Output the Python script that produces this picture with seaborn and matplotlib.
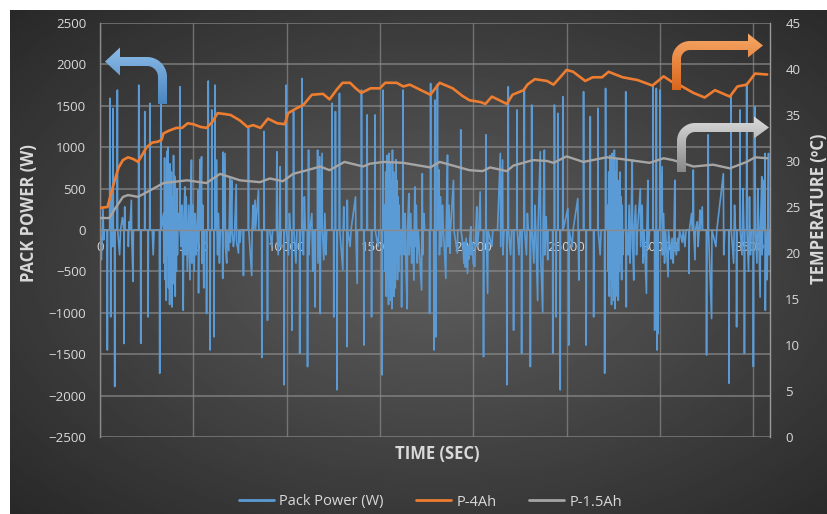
import numpy as np
import matplotlib
matplotlib.use("Agg")
import matplotlib.pyplot as plt
import seaborn as sns
from matplotlib.path import Path
from matplotlib.patches import PathPatch
from matplotlib.lines import Line2D

# pack power (W), time in seconds
pack_time = [
    0, 40, 72, 110, 160, 200, 240, 380, 394, 410, 515, 530, 545, 560, 573, 590, 650, 660, 675, 700, 715, 775, 788, 800, 915, 930, 945, 1050, 1100, 1200, 1280, 1290, 1300, 1325, 1340, 1500, 1520, 1560, 1600, 1680, 1700, 1770, 1790, 2060, 2077, 2095, 2170, 2184, 2200, 2390, 2400, 2415, 2570, 2580, 2595, 2660, 2670, 2685, 2800, 2850, 2900, 3180, 3200, 3215, 3250, 3260, 3275,
    3400, 3430, 3460, 3490, 3520, 3550, 3580, 3610, 3640, 3670, 3700, 3730, 3760, 3790, 3820, 3850, 3880, 3910, 3940, 3970, 4000, 4030, 4060, 4090, 4120, 4150, 4180, 4220,
    4270, 4280, 4295, 4350, 4400, 4460, 4480, 4550, 4570, 4620, 4680, 4750, 4820, 4850, 4900, 4930, 4980, 5050, 5100, 5150, 5200, 5260, 5280, 5300, 5360, 5380, 5440, 5460, 5500, 5560, 5600, 5700, 5710, 5725, 5790, 5800, 5815, 5880, 5900, 5915, 5980, 5990, 6005, 6100, 6110, 6125, 6150, 6160, 6175,
    6254, 6270, 6300, 6350, 6400, 6450, 6560, 6576, 6600, 6620, 6700, 6720, 6790, 6810, 6900, 6970, 6990, 7060, 7080, 7150, 7200, 7300, 7320, 7420, 7450, 7500, 7550, 7670, 7686, 7700, 7940, 7955, 7970, 8130, 8150, 8200, 8220, 8310, 8330, 8490, 8510, 8660, 8670, 8685, 8780, 8790, 8805, 8960, 8975, 8990,
    9100, 9200, 9250, 9450, 9476, 9490, 9550, 9600, 9655, 9670, 9700, 9860, 9870, 9880, 9970, 9977, 9990, 10100, 10150, 10200, 10270, 10280, 10295, 10360, 10370, 10385, 10500, 10550, 10690, 10700, 10715, 10810, 10820, 10835, 10900, 10950, 11000, 11110, 11120, 11135, 11160, 11175, 11190, 11250, 11350, 11400, 11450, 11520, 11530, 11545, 11650, 11660, 11680, 11780, 11800, 11820, 11900, 11915, 11990, 12050, 12100, 12150,
    12420, 12436, 12450, 12515, 12525, 12540, 12600, 12615, 12630, 12690, 12700, 12715, 12820, 12830, 12845, 13010, 13030, 13060, 13080, 13230, 13240, 13250, 13265, 13400, 13450, 13690, 13710, 13780, 13800, 14000, 14010, 14025, 14130, 14137, 14150, 14300, 14315, 14330, 14540, 14550, 14565, 14720, 14730, 14745, 14900, 14950, 15110, 15120, 15135, 15150, 15157, 15170,
    15250, 15280, 15310, 15340, 15370, 15400, 15430, 15460, 15490, 15520, 15550, 15580, 15610, 15640, 15670, 15700, 15730, 15760, 15790, 15820, 15850, 15880, 15910, 15940, 15970, 16000, 16030, 16060, 16100,
    16150, 16160, 16175, 16220, 16230, 16245, 16300, 16350, 16400, 16460, 16480, 16550, 16570, 16650, 16700, 16750, 16820, 16840, 16870, 16890, 16950, 17000, 17050, 17230, 17250, 17270, 17290, 17350, 17400, 17650, 17660, 17675, 17700, 17715, 17730, 17880, 17900, 17915, 17930, 17945, 17960, 17990, 18005, 18060, 18080, 18095, 18170, 18190, 18250, 18300, 18350, 18400, 18530, 18550, 18620, 18640, 18700, 18760, 18780, 18940, 18960, 19150, 19170, 19320, 19330, 19345,
    19450, 19500, 19540, 19580, 19620, 19690, 19730, 19780, 19820, 19870, 19900, 19950, 20000, 20080, 20120, 20190, 20210, 20260, 20300, 20370, 20390,
    20540, 20550, 20565, 20670, 20680, 20695, 20770, 20790, 21000, 21050, 21300, 21450, 21470, 21570, 21590, 21650, 21790, 21800, 21815, 21860, 21875, 21890, 22000, 22050, 22150, 22160, 22175, 22330, 22340, 22355, 22450, 22500, 22580, 22590, 22605, 22720, 22735, 22750, 22850, 22900, 22950, 23050, 23060, 23075, 23120, 23130, 23145, 23250, 23300, 23350, 23450, 23470, 23590, 23610, 23720, 23740, 23810, 23830, 23906, 23930, 23990, 24010,
    24250, 24260, 24275, 24340, 24350, 24365, 24430, 24440, 24455, 24520, 24530, 24545, 24650, 24660, 24675, 24790, 24800, 24815, 25070, 25090, 25110, 25120, 25135, 25300, 25350, 25600, 25620, 25660, 25680, 25900, 25910, 25925, 26040, 26050, 26065, 26260, 26270, 26285, 26440, 26450, 26465, 26670, 26680, 26695, 26800, 26850, 27030, 27040, 27055, 27080, 27090, 27105,
    27200, 27230, 27260, 27290, 27320, 27350, 27380, 27410, 27440, 27470, 27500, 27530, 27560, 27590, 27620, 27650, 27680, 27710, 27740, 27770, 27800, 27830, 27860, 27890, 27920, 27950, 27980, 28010, 28050,
    28160, 28170, 28185, 28200, 28215, 28300, 28350, 28400, 28450, 28520, 28540, 28600, 28620, 28700, 28750, 28800, 28950, 28970, 29050, 29100, 29150, 29280, 29300, 29360, 29380, 29450, 29620, 29630, 29645, 29710, 29720, 29735, 29800, 29810, 29825, 29840, 29850, 29865, 29900, 29915, 29990, 30000, 30015, 30120, 30140, 30200, 30250, 30300, 30440, 30460,
    30550, 30600, 30650, 30715, 30750, 30800, 30820, 30880, 30950, 31000, 31050, 31200, 31250, 31340, 31400, 31550, 31560, 31580, 31700, 31750, 31790, 31810, 31880, 31900, 32000, 32050, 32100, 32150, 32170, 32270, 32290,
    32490, 32500, 32515, 32580, 32590, 32605, 32770, 32790, 33000, 33050, 33400, 33420, 33480, 33690, 33700, 33715, 33800, 33810, 33825, 33950, 34000, 34050, 34100, 34110, 34125, 34280, 34290, 34305, 34400, 34450, 34500, 34520, 34530, 34545, 34640, 34650, 34665, 34750, 34800, 34850, 34900, 35000, 35010, 35025, 35090, 35100, 35115, 35200, 35250, 35300, 35370, 35390, 35460, 35480, 35560, 35600, 35640, 35650, 35670, 35750, 35820, 35840, 35900,
]
pack_power = [
    0, -180, -360, -80, 250, -120, 0, 0, -1450, 0, 0, 1590, 0, 0, -1050, 0, 0, 440, -200, 1470, 0, 0, -1890, 0, 0, 1690, 0, -300, 0, 150, 0, -1370, 0, 280, 0, 0, -200, 100, 0, 360, -100, -620, 0, 0, 1750, 0, 0, -1370, 0, 0, 1430, 0, 0, -1050, 0, 0, 1530, 0, 0, -300, 0, 0, -1730, 0, 0, 1530, 0,
    200, -400, 870, -600, 500, -850, 950, -300, 1000, -700, 600, -900, 800, -500, 700, -930, 400, -650, 900, -400, 650, -800, 300, -500, 500, -300, 200, 0,
    0, 1730, 0, -200, 300, -970, 0, 520, -300, 400, -500, 300, -600, 200, 845, -400, 300, -500, 200, -300, 0, 480, -760, 0, 850, 0, 885, -400, 300, -700, 0, 0, -1010, 0, 0, 1800, 0, 0, -1450, 0, 0, 1450, 0, 0, -1290, 0, 0, 1750, 0,
    845, 0, -300, 200, -400, 0, 0, -585, 940, 0, 925, -200, -400, 0, -250, 620, -150, 600, 0, -200, -100, 550, -150, -280, 0, -150, 0, 0, -550, 0, 0, 1230, 0, -550, 0, 300, 0, 360, 0, 480, 0, 0, -1540, 0, 0, 1190, 0, 0, -1090, 0,
    0, -200, 0, 0, 945, 0, -300, 0, 765, -200, 0, 0, -1870, 0, 0, 1750, 0, -300, 200, 0, 0, -1210, 0, 0, 1430, 0, -400, 0, 0, -1490, 0, 0, 1830, 0, -300, 400, 0, 0, -1650, 0, 0, 965, -300, 0, 200, -500, 0, 0, -930, 0, 0, 965, -400, 885, -1010, 0, 925, 0, -360, 200, -300, 0,
    0, 1530, 0, 0, -1050, 0, 0, 1430, 0, 0, -1930, 0, 0, 1650, 0, -480, 0, 280, 0, 0, -1410, 360, 0, -200, 0, 400, 0, -645, 0, 0, 1690, 0, 0, -1390, 0, 0, 1390, 0, 0, -1050, 0, 0, 1390, 0, -200, 0, 0, -1750, 0, 0, 1690, 0,
    300, -500, 700, -800, 900, -600, 850, -900, 925, -700, 800, -850, 600, -950, 965, -500, 700, -800, 500, -700, 850, -400, 600, -600, 400, -500, 300, -300, 0,
    0, -930, 0, 0, 1690, 0, -300, 200, -500, -950, 0, 440, -300, 200, -400, 0, -605, 0, 520, -200, 300, -400, 0, -725, 0, 680, -300, 200, 0, 0, -1010, 0, 0, 1770, 0, 0, -1450, 0, 0, 1570, 0, -1290, 0, 0, 1760, 0, 725, -300, 400, -200, 300, 0, -585, 0, 905, -200, 300, -280, 0, 600, 0, -280, 0, 0, 1210, 0,
    -200, -400, -150, -450, -100, -525, -200, -350, -100, 40, -300, -150, -400, -440, -100, 280, -200, -100, 0, 460, 0,
    0, -1530, 0, 0, 1150, 0, -765, 0, -200, 0, 0, 925, -200, 845, -300, 0, 0, -1870, 0, 0, 1730, 0, -300, 0, 0, -1210, 0, 0, 1450, 0, -300, 0, 0, -1490, 0, 0, 1690, 0, -300, 200, 0, 0, -1650, 0, 0, 1510, 0, -400, 300, 0, -850, 0, 945, -300, -990, 0, 965, -300, 160, 0, -360, 0,
    0, -1490, 0, 0, 1510, 0, 0, -1050, 0, 0, 1410, 0, 0, -1930, 0, 0, 1610, 0, 260, 0, 0, -1390, 0, -200, 0, 380, 0, -605, 0, 0, 1670, 0, 0, -1390, 0, 0, 1370, 0, 0, -1050, 0, 0, 1470, 0, -300, 0, 0, -1730, 0, 0, 1710, 0,
    300, -500, 700, -800, 900, -600, 850, -900, 925, -700, 800, -850, 965, -950, 700, -600, 850, -800, 600, -850, 500, -500, 700, -400, 400, -600, 300, -300, 0,
    0, 1670, 0, -930, 0, -300, 300, -400, 0, 845, -200, -605, 0, 300, -300, 0, 500, -200, 300, -400, 0, -765, 0, 600, -200, 0, 0, 1730, 0, 0, -1210, 0, 0, 1710, 0, 0, -1450, 0, -1250, 0, 0, 1690, 0, 765, -300, 200, -400, 0, -565, 0,
    -200, -350, -100, -400, -150, 600, -200, -300, -100, -250, 0, -150, 0, -200, 0, 0, -525, 0, 200, 0, 725, 0, -360, 0, 100, -200, 0, 240, 0, 280, 0,
    0, -1510, 0, 0, 1150, 0, -1070, 0, -200, 0, 680, -300, 0, 0, -1850, 0, 0, 1610, 0, -400, 300, 0, 0, -1170, 0, 0, 1450, 0, -300, 500, 0, 0, -1490, 0, 0, 1770, 0, -500, 400, -300, 0, 0, -1650, 0, 0, 1490, 0, -400, 500, 0, -810, 0, 645, -300, 600, 0, 925, -970, 0, -600, 925, -300, 0,
]
assert len(pack_time) == len(pack_power), (len(pack_time), len(pack_power))

# cell temperatures (degC)
temp_time_4ah = [0, 400, 600, 800, 1000, 1230, 1500, 1800, 2040, 2300, 2500, 2800, 3100, 3300, 3400, 3700, 4100, 4400, 4700, 5000, 5400, 5700, 6000, 6300, 6700, 7000, 7500, 7900, 8200, 8600, 9000, 9500, 9900, 10080, 10500, 10900, 11350, 11950, 12300, 12700, 13000, 13400, 13700, 14000, 14500, 15000, 15280, 15900, 16250, 16600, 17200, 17700, 18200, 18900, 19400, 19800, 20400, 20650, 21000, 21400, 21800, 22100, 22700, 22900, 23300, 23950, 24300, 24700, 25000, 25350, 26000, 26400, 26900, 27250, 28000, 28800, 29600, 30200, 30650, 31100, 31800, 32400, 32950, 33750, 34150, 34650, 35100, 35750]
temp_4ah = [24.9, 25.0, 26.5, 28.0, 29.3, 30.1, 30.4, 30.2, 29.9, 30.8, 31.5, 32.0, 32.1, 32.3, 33.0, 33.3, 33.6, 33.6, 34.1, 34.0, 33.7, 33.6, 34.2, 35.2, 35.1, 35.0, 34.4, 33.7, 33.9, 33.6, 34.6, 34.1, 34.0, 35.2, 35.7, 36.1, 37.2, 37.3, 36.7, 37.8, 38.5, 38.5, 37.9, 37.4, 37.9, 37.9, 38.5, 38.5, 38.1, 38.3, 37.7, 37.2, 38.5, 37.9, 37.1, 36.6, 36.4, 36.2, 37.0, 36.6, 36.2, 37.2, 37.7, 38.3, 38.9, 38.7, 38.3, 39.2, 39.9, 39.7, 38.7, 39.1, 39.1, 39.7, 39.1, 38.8, 38.2, 39.2, 38.6, 38.2, 37.4, 36.9, 37.7, 37.0, 38.1, 38.3, 39.5, 39.4]
temp_time_15ah = [0, 500, 800, 1230, 1500, 2040, 2680, 3400, 4660, 5700, 6430, 7500, 8570, 9100, 9800, 10350, 11100, 11800, 12300, 13100, 14100, 14450, 15200, 16250, 17700, 18200, 19800, 20500, 20900, 21800, 22150, 23200, 23950, 24300, 25000, 25900, 27150, 28000, 29450, 30200, 30700, 31800, 32850, 33750, 34650, 35100, 35750]
temp_15ah = [23.8, 23.8, 24.8, 26.1, 26.3, 26.1, 26.8, 27.6, 27.9, 27.6, 28.6, 27.9, 27.7, 28.1, 27.8, 28.6, 29.0, 29.4, 29.0, 29.9, 29.4, 29.7, 29.9, 29.8, 29.3, 29.9, 29.0, 28.9, 29.3, 28.9, 29.5, 30.1, 30.0, 29.8, 30.5, 29.9, 30.4, 30.2, 29.8, 30.3, 30.1, 29.4, 29.6, 29.2, 29.9, 30.4, 30.3]

power_ticks = list(range(-2500, 2501, 500))
time_ticks = list(range(0, 35001, 5000))
temp_ticks = list(range(0, 46, 5))
series_labels = ["Pack Power (W)", "P-4Ah", "P-1.5Ah"]
BLUE, ORANGE, GRAY = "#5B9BD5", "#ED7D31", "#A5A5A5"
TXT = "#d9d9d9"
GRID = "#8a8a8a"

sns.set_style("ticks")
plt.rcParams["font.family"] = ["Open Sans", "DejaVu Sans"]

W, H = 828, 514
fig = plt.figure(figsize=(W / 100, H / 100), dpi=100, facecolor="white")

# dark radial background
bg = fig.add_axes([10 / W, 0, (W - 10) / W, (H - 10) / H])
u, v = np.meshgrid(np.linspace(0, 1, 400), np.linspace(0, 1, 260))
d = np.sqrt(((u - 0.52) / 0.72) ** 2 + ((v - 0.5) / 0.72) ** 2)
shade = np.clip(0.37 - 0.21 * d, 0.13, 0.4)
bg.imshow(shade, cmap="gray", vmin=0, vmax=1, aspect="auto", extent=[0, 1, 0, 1])
bg.axis("off")

ax = fig.add_axes([100 / W, 77 / H, 670 / W, 414 / H])
ax.patch.set_alpha(0)
# gridlines as plain reference lines under the data
ax.hlines(power_ticks, 0, 35900, colors=GRID, linewidth=1.3, alpha=0.7, zorder=0.5)
ax.vlines(time_ticks, -2500, 2500, colors=GRID, linewidth=1.0, alpha=0.7, zorder=0.5)
sns.lineplot(x=pack_time, y=pack_power, ax=ax, color=BLUE, linewidth=1.2,
             estimator=None, sort=False)
ax.set_xlim(0, 35900)
ax.set_ylim(-2500, 2500)
ax.set_xticks(time_ticks)
ax.set_yticks(power_ticks)
for s in ["top", "right"]:
    ax.spines[s].set_visible(False)
ax.spines["left"].set_color("#8a8a8a")
ax.spines["left"].set_linewidth(1.0)
ax.spines["bottom"].set_position(("data", 0))
ax.spines["bottom"].set_color("#8a8a8a")
ax.spines["bottom"].set_linewidth(1.0)
ax.tick_params(axis="x", length=0, pad=8, labelsize=9.5, labelcolor=TXT)
ax.tick_params(axis="y", length=0, pad=10, labelsize=9.5, labelcolor=TXT)
ax.set_xlabel("TIME (SEC)", fontsize=12, fontweight="bold", color=TXT)
ax.xaxis.set_label_coords(0.503, -0.02)
ax.set_ylabel("PACK POWER (W)", fontsize=12, fontweight="bold", color=TXT)
ax.yaxis.set_label_coords(-0.092, 0.54)

ax2 = ax.twinx()
ax2.patch.set_alpha(0)
sns.lineplot(x=temp_time_4ah, y=temp_4ah, ax=ax2, color=ORANGE, linewidth=1.9)
sns.lineplot(x=temp_time_15ah, y=temp_15ah, ax=ax2, color=GRAY, linewidth=1.7)
ax2.set_ylim(0, 45)
ax2.set_yticks(temp_ticks)
for s in ["top", "left", "bottom"]:
    ax2.spines[s].set_visible(False)
ax2.spines["right"].set_color("#9a9a9a")
ax2.spines["right"].set_linewidth(1.0)
ax2.tick_params(axis="y", length=0, pad=11, labelsize=9.5, labelcolor=TXT)
ax2.set_ylabel("TEMPERATURE (ºC)", fontsize=12, fontweight="bold", color=TXT)
ax2.yaxis.set_label_coords(1.06, 0.55)

# bent arrows pointing at the axes (pixel coords, y down)
deco = fig.add_axes([0, 0, 1, 1])
deco.axis("off")
deco.patch.set_alpha(0)


def bent_arrow(xo, w, y_bot, yt, r, tip, head_len, hh, s, c_top, c_bot):
    cx = xo + s * r
    ang = np.linspace(0, np.pi / 2, 20)
    pts = [(xo, y_bot), (xo, yt + r)]
    pts += [(cx - s * r * np.cos(a), yt + r - r * np.sin(a)) for a in ang]
    hb = tip - s * head_len
    yc = yt + w / 2
    pts += [(hb, yt), (hb, yc - hh), (tip, yc), (hb, yc + hh), (hb, yt + w)]
    ri = r - w
    pts += [(cx - s * ri * np.cos(a), yt + r - ri * np.sin(a)) for a in ang[::-1]]
    pts += [(xo + s * w, y_bot), (xo, y_bot)]
    patch = PathPatch(Path(pts, closed=True), facecolor="none", edgecolor="none")
    deco.add_patch(patch)
    xs = [p[0] for p in pts]
    ys = [p[1] for p in pts]
    grad = np.linspace(0, 1, 64)[:, None, None]
    c0 = np.array(matplotlib.colors.to_rgba(c_top))
    c1 = np.array(matplotlib.colors.to_rgba(c_bot))
    img = c0 * (1 - grad) + c1 * grad
    im = deco.imshow(img, extent=[min(xs), max(xs), max(ys), min(ys)],
                     origin="upper", aspect="auto", interpolation="bilinear")
    im.set_clip_path(patch)


bent_arrow(167, 9, 104, 57, 20, 105, 15, 14, -1, "#8cbce8", "#4a86c0")
bent_arrow(672, 9, 90, 41, 18, 763, 15, 12, 1, "#f7a867", "#d9661c")
bent_arrow(677, 9, 172, 123, 18, 769, 15, 11, 1, "#dcdcdc", "#888888")
deco.set_xlim(0, W)
deco.set_ylim(H, 0)

handles = [Line2D([], [], color=c, linewidth=2) for c in (BLUE, ORANGE, GRAY)]
fig.legend(handles, series_labels, loc="center", bbox_to_anchor=(0.52, 12 / H),
           ncol=3, frameon=False, fontsize=10.5, labelcolor=TXT,
           handlelength=2.4, handletextpad=0.4, columnspacing=2.2)

fig.savefig("out.png", dpi=100, facecolor="white")
